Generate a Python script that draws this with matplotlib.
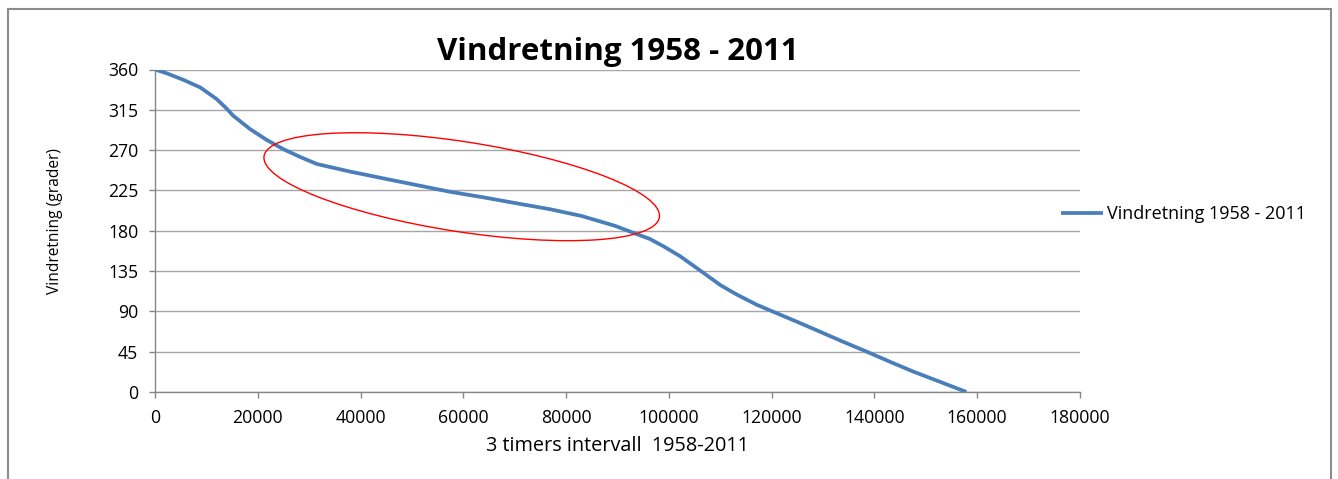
import matplotlib
matplotlib.use("Agg")
import matplotlib.pyplot as plt
from matplotlib.patches import Ellipse
from matplotlib.lines import Line2D
from matplotlib.transforms import IdentityTransform

plt.rcParams['font.family'] = ['Open Sans', 'DejaVu Sans']

# values
intervall = [0, 2300, 5500, 8800, 12000, 14000, 15200, 18500, 21700, 25000,
             28200, 31500, 38000, 44400, 50900, 57400, 63900, 70400, 76900,
             83000, 89500, 93400, 96300, 99000, 102200, 106000, 110000, 113200,
             117100, 120300, 124900, 129400, 133900, 138500, 143000, 147600,
             152700, 157900]
vindretning = [360, 355.7, 348.5, 340, 327, 316, 308.5, 293.5, 281.5, 271,
               262.5, 254.5, 246, 238.5, 231, 223.5, 217.3, 210.6, 204,
               196.5, 185.5, 177, 170.8, 162.5, 151.5, 136, 119.4, 108.8,
               97.4, 89.6, 78.5, 67.3, 56.1, 45, 33.8, 22.7,
               11.5, 0]
y_ticks = [0, 45, 90, 135, 180, 225, 270, 315, 360]
x_ticks = [0, 20000, 40000, 60000, 80000, 100000, 120000, 140000, 160000, 180000]
serie = "Vindretning 1958 - 2011"

W, H = 1338, 479
fig = plt.figure(figsize=(W/100, H/100), dpi=100)
ax = fig.add_axes([155/W, 1-392/H, 925/W, 322.5/H])

ax.plot(intervall, vindretning, color='#4a7ebb', lw=2.7, label=serie,
        solid_capstyle='butt', solid_joinstyle='round')
ax.set_xlim(0, 180000); ax.set_ylim(0, 360)
ax.set_yticks(y_ticks); ax.set_xticks(x_ticks)
ax.yaxis.grid(True, color='#a6a6a6', lw=1)
ax.set_axisbelow(True)
for s in ['top', 'right']:
    ax.spines[s].set_visible(False)
for s in ['left', 'bottom']:
    ax.spines[s].set_color('#868686'); ax.spines[s].set_linewidth(1)
ax.tick_params(axis='both', colors='#868686', length=4, width=1, labelsize=12.7,
               labelcolor='black')
ax.tick_params(axis='y', pad=8)
ax.tick_params(axis='x', pad=8)

ax.set_title(serie, fontsize=22.5, fontweight='bold', pad=7)
ax.set_xlabel("3 timers intervall  1958-2011", fontsize=14.3, labelpad=7)
ax.set_ylabel("Vindretning (grader)", fontsize=11.2)
ax.yaxis.set_label_coords(-0.099, 0.529)

fig.legend(loc='center left', bbox_to_anchor=(1061/W, 1-214/H), frameon=False,
           fontsize=13, handlelength=2.3, handletextpad=0.25, borderpad=0,
           borderaxespad=0)

# red ellipse marking the middle section
fig.add_artist(Ellipse((461.7, H-186.7), 400, 90, angle=-8.8, fill=False,
                       edgecolor='red', lw=1.0, transform=IdentityTransform()))

# surrounding frame
fc = '#8c8c8c'
fig.add_artist(Line2D([8/W, 8/W], [0, 1-9/H], color=fc, lw=1.5, transform=fig.transFigure))
fig.add_artist(Line2D([8/W, 1331/W], [1-9/H, 1-9/H], color=fc, lw=1.5, transform=fig.transFigure))
fig.add_artist(Line2D([1331/W, 1331/W], [0, 1-9/H], color=fc, lw=1.5, transform=fig.transFigure))

fig.savefig("out.png", dpi=100)
